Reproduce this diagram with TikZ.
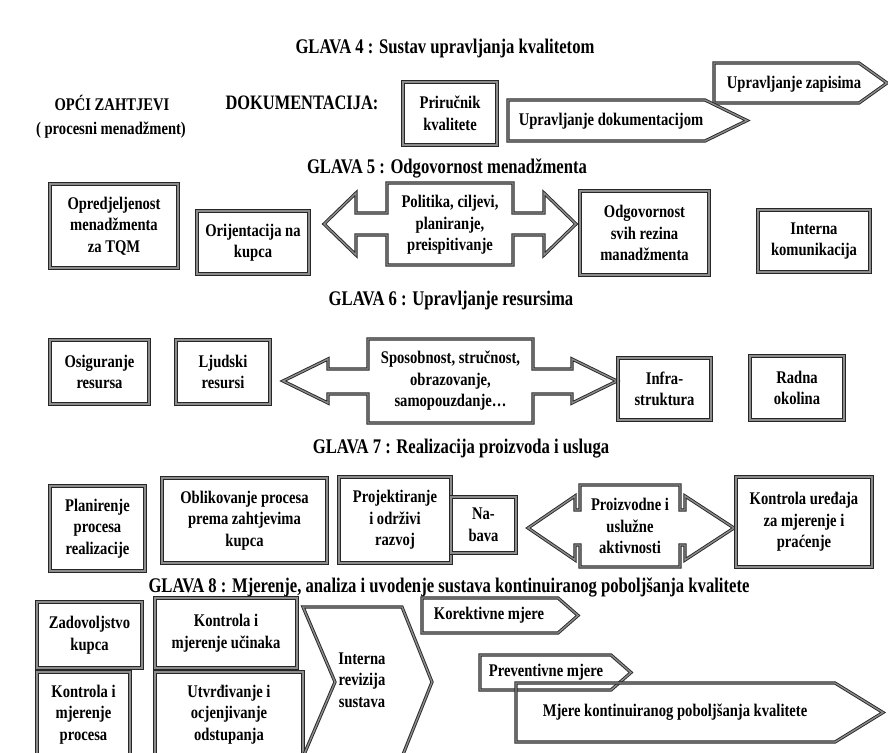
\documentclass[tikz,border=0pt]{standalone}
\usepackage{fontspec}
\newfontfamily\dfont{Liberation Serif}[UprightFont={* Bold}, FakeStretch=0.82]
\newfontfamily\tfont{Liberation Serif}[UprightFont={* Bold}, FakeStretch=0.80]
\newcommand{\bxfont}{\dfont\fontsize{17.8}{21.5}\selectfont}
\newcommand{\ttfont}{\tfont\fontsize{20.8}{24}\selectfont}
\newcommand{\dokfont}{\tfont\fontsize{20.5}{24}\selectfont}
\tikzset{
  dbl/.style={draw=black!85, line width=0.9pt, double=black!45, double distance=1.4pt, line join=miter},
  bx/.style={dbl, align=center, inner sep=0pt, font=\bxfont},
  lbl/.style={align=center, inner sep=0pt, font=\bxfont},
  ttl/.style={inner sep=0pt, font=\ttfont},
}
\begin{document}
\begin{tikzpicture}[x=1pt,y=1pt,yscale=-1]
\useasboundingbox (0,0) rectangle (888,752);
% ---------- GLAVA 4
\node[ttl] (t4) at (445,48) {GLAVA 4 : Sustav upravljanja kvalitetom};
\node[lbl] (opci) at (112,103) {OPĆI ZAHTJEVI};
\node[lbl] (proc) at (111,130) {( procesni menadžment)};
\node[lbl, font=\dokfont] (dok) at (302,103) {DOKUMENTACIJA:};
\node[bx, minimum width=94pt, minimum height=63pt] (prir) at (450,113.5) {Priručnik\\kvalitete};
\draw[dbl] (714,63) -- (859,63) -- (887,83) -- (859,103) -- (714,103) -- cycle;
\node[lbl] (upzap) at (794,84) {Upravljanje zapisima};
\draw[dbl] (508,100) -- (705,100) -- (747,120.5) -- (705,141) -- (508,141) -- cycle;
\node[lbl] (updok) at (611,121) {Upravljanje dokumentacijom};
% ---------- GLAVA 5
\node[ttl] (t5) at (447,168) {GLAVA 5 : Odgovornost menadžmenta};
\node[bx, minimum width=128pt, minimum height=84pt] (opr) at (114,226) {Opredjeljenost\\menadžmenta\\za TQM};
\node[bx, minimum width=112pt, minimum height=63pt] (ori) at (253,242.5) {Orijentacija na\\kupca};
\draw[dbl] (387,183) -- (513,183) -- (513,213) -- (544,213) -- (544,193) -- (576,224) -- (544,255) -- (544,235) -- (513,235) -- (513,265) -- (387,265) -- (387,235) -- (356,235) -- (356,255) -- (324,224) -- (356,193) -- (356,213) -- (387,213) -- cycle;
\node[lbl] (pol) at (450,225) {Politika, ciljevi,\\planiranje,\\preispitivanje};
\node[bx, minimum width=129pt, minimum height=84pt] (odg) at (644.5,233) {Odgovornost\\svih rezina\\manadžmenta};
\node[bx, minimum width=112pt, minimum height=62pt] (ikom) at (814,241) {Interna\\komunikacija};
% ---------- GLAVA 6
\node[ttl] (t6) at (451,300) {GLAVA 6 : Upravljanje resursima};
\node[bx, minimum width=99pt, minimum height=64pt] (osi) at (99.5,372) {Osiguranje\\resursa};
\node[bx, minimum width=94pt, minimum height=64pt] (lju) at (223,372) {Ljudski\\resursi};
\draw[dbl] (368,339) -- (533,339) -- (533,369) -- (572,369) -- (572,359) -- (617,381) -- (572,403) -- (572,394) -- (533,394) -- (533,423) -- (368,423) -- (368,394) -- (328,394) -- (328,403) -- (283,381) -- (328,359) -- (328,369) -- (368,369) -- cycle;
\node[lbl] (spo) at (450.5,381) {Sposobnost, stručnost,\\obrazovanje,\\samopouzdanje…};
\node[bx, minimum width=93pt, minimum height=62pt] (inf) at (664.5,389) {Infra-\\struktura};
\node[bx, minimum width=94pt, minimum height=64pt] (rad) at (797,388) {Radna\\okolina};
% ---------- GLAVA 7
\node[ttl] (t7) at (461,449) {GLAVA 7 : Realizacija proizvoda i usluga};
\node[bx, minimum width=95pt, minimum height=85pt] (pla) at (97.5,528.5) {Planirenje\\procesa\\realizacije};
\node[bx, minimum width=165pt, minimum height=85pt] (obl) at (244.5,520.5) {Oblikovanje procesa\\prema zahtjevima\\kupca};
\node[bx, minimum width=112pt, minimum height=86pt] (pro) at (395,520) {Projektiranje\\i održivi\\razvoj};
\node[bx, minimum width=65pt, minimum height=56pt] (nab) at (483.5,525) {Na-\\bava};
\draw[dbl] (580,485) -- (680,485) -- (680,510) -- (685,510) -- (685,496) -- (734,528) -- (685,560) -- (685,545) -- (680,545) -- (680,567) -- (580,567) -- (580,545) -- (575,545) -- (575,560) -- (528,528) -- (575,496) -- (575,510) -- (580,510) -- cycle;
\node[lbl] (piz) at (630,526) {Proizvodne i\\uslužne\\aktivnosti};
\node[bx, minimum width=136pt, minimum height=90pt] (kur) at (804,522) {Kontrola uređaja\\za mjerenje i\\praćenje};
% ---------- GLAVA 8
\node[ttl] (t8) at (449,587) {GLAVA 8 : Mjerenje, analiza i uvodenje sustava kontinuiranog poboljšanja kvalitete};
\node[bx, minimum width=105pt, minimum height=66pt] (zad) at (89.5,635) {Zadovoljstvo\\kupca};
\node[bx, minimum width=142pt, minimum height=70pt] (kmu) at (226,633) {Kontrola i\\mjerenje učinaka};
\node[bx, minimum width=93pt, minimum height=85pt] (kmp) at (83.5,714.5) {Kontrola i\\mjerenje\\procesa};
\node[bx, minimum width=148pt, minimum height=85pt] (utv) at (229,714.5) {Utvrđivanje i\\ocjenjivanje\\odstupanja};
\draw[dbl] (303,607) -- (402,607) -- (432,682) -- (402,757) -- (303,757) -- (335,682) -- cycle;
\node[lbl] (irs) at (362,680) {Interna\\revizija\\sustava};
\draw[dbl] (422,598) -- (558,598) -- (578,615.5) -- (558,633) -- (422,633) -- cycle;
\node[lbl] (kor) at (489,615) {Korektivne mjere};
\draw[dbl] (480,655) -- (611,655) -- (631,672.5) -- (611,690) -- (480,690) -- cycle;
\node[lbl] (pre) at (546,672) {Preventivne mjere};
\draw[dbl] (516,683) -- (835,683) -- (883,712.5) -- (835,742) -- (516,742) -- cycle;
\node[lbl] (mkp) at (675,712) {Mjere kontinuiranog poboljšanja kvalitete};
\end{tikzpicture}
\end{document}
